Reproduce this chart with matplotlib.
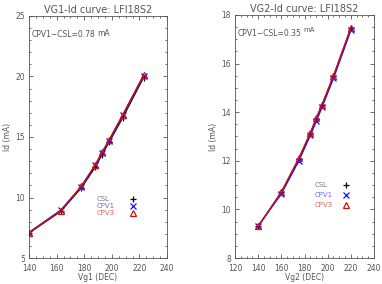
import numpy as np
import matplotlib
matplotlib.use('Agg')
import matplotlib.pyplot as plt
from matplotlib.ticker import MultipleLocator

# --- data ---
vg1 = [140, 163, 178, 188, 193, 198, 208, 223]
id1_csl = [7.05, 8.85, 10.8, 12.5, 13.55, 14.55, 16.6, 19.9]
id1_cpv1 = [7.1, 8.95, 10.9, 12.65, 13.7, 14.7, 16.8, 20.05]
id1_cpv3 = [7.1, 8.9, 10.95, 12.7, 13.75, 14.75, 16.85, 20.1]

vg2 = [140, 160, 175, 185, 190, 195, 205, 220]
id2_csl = [9.3, 10.7, 12.07, 13.12, 13.72, 14.28, 15.48, 17.45]
id2_cpv1 = [9.32, 10.65, 12.0, 13.05, 13.62, 14.2, 15.4, 17.38]
id2_cpv3 = [9.3, 10.72, 12.1, 13.15, 13.75, 14.3, 15.5, 17.48]

series_names = ['CSL', 'CPV1', 'CPV3']
titles = ['VG1-Id curve: LFI18S2', 'VG2-Id curve: LFI18S2']
xlabels = ['Vg1 (DEC)', 'Vg2 (DEC)']
diffs = ['0.78', '0.35']

GRAY = '#555555'
mark_col = ['black', '#1010ff', '#d01010']
text_col = ['#777777', '#6b6bff', '#e86060']
markers = ['+', 'x', '^']

fig = plt.figure(figsize=(3.82, 2.84), dpi=100)
ax1 = fig.add_axes([29/382, 1-258/284, 138/382, 242/284])
ax2 = fig.add_axes([235/382, 1-258/284, 139/382, 243/284])


def style(ax, xlim, ylim, xmaj, xmin, ymaj, ymin):
    ax.set_xlim(*xlim); ax.set_ylim(*ylim)
    ax.xaxis.set_major_locator(MultipleLocator(xmaj))
    ax.xaxis.set_minor_locator(MultipleLocator(xmin))
    ax.yaxis.set_major_locator(MultipleLocator(ymaj))
    ax.yaxis.set_minor_locator(MultipleLocator(ymin))
    ax.tick_params(which='both', direction='in', top=True, right=True,
                   colors=GRAY, labelsize=5.5, width=0.6)
    ax.tick_params(axis='x', pad=4)
    ax.tick_params(axis='y', pad=3)
    ax.tick_params(which='major', length=3)
    ax.tick_params(which='minor', length=1.5)
    for s in ax.spines.values():
        s.set_color(GRAY); s.set_linewidth(0.6)


def draw(ax, x, ys, k):
    lws = [0.8, 1.1, 1.0]
    for i, y in enumerate(ys):
        ax.plot(x, y, color=mark_col[i], lw=lws[i], zorder=2+i)
        if markers[i] == '^':
            ax.plot(x, y, ls='none', marker='^', ms=4, mfc='none',
                    mec=mark_col[i], mew=0.9, zorder=5)
        else:
            ax.plot(x, y, ls='none', marker=markers[i], ms=4,
                    color=mark_col[i], mew=0.9, zorder=3+i)
    ax.set_title(titles[k], fontsize=7, color=GRAY, pad=2)
    ax.set_xlabel(xlabels[k], fontsize=5.5, color=GRAY, labelpad=0.5)
    ax.set_ylabel('Id (mA)', fontsize=5.5, color=GRAY, labelpad=2)
    t = ax.text(0.02, 0.925, 'CPV1\u2212CSL=' + diffs[k], transform=ax.transAxes,
                fontsize=5.5, color=GRAY, va='center')
    return t


t1 = draw(ax1, vg1, [id1_csl, id1_cpv1, id1_cpv3], 0)
t2 = draw(ax2, vg2, [id2_csl, id2_cpv1, id2_cpv3], 1)
style(ax1, (140, 240), (5, 25), 20, 5, 5, 1)
style(ax2, (120, 240), (8, 18), 20, 5, 2, 0.5)

# "mA" units just after the difference text
fig.canvas.draw()
r = fig.canvas.get_renderer()
for t, raise_px, fs in [(t1, 1, 5.5), (t2, 3, 5)]:
    bb = t.get_window_extent(r)
    fig.text(bb.x1 + 2, (bb.y0 + bb.y1) / 2 + raise_px, 'mA', transform=None,
             fontsize=fs, color=GRAY, va='center')

# legends drawn as text + symbol, like the IDL plot
for ax, lx, sx, ly, dy in [(ax1, 0.49, 0.75, 0.245, 0.030),
                           (ax2, 0.575, 0.80, 0.30, 0.041)]:
    for i, name in enumerate(series_names):
        yy = ly - i * dy
        ax.text(lx, yy, name, transform=ax.transAxes, fontsize=5,
                color=text_col[i], va='center')
        if markers[i] == '^':
            ax.plot([sx], [yy], transform=ax.transAxes, marker='^', ms=4,
                    mfc='none', mec=mark_col[i], mew=0.9, ls='none')
        else:
            ax.plot([sx], [yy], transform=ax.transAxes, marker=markers[i],
                    ms=4, color=mark_col[i], mew=0.9, ls='none')

fig.savefig('out.png', dpi=100)
